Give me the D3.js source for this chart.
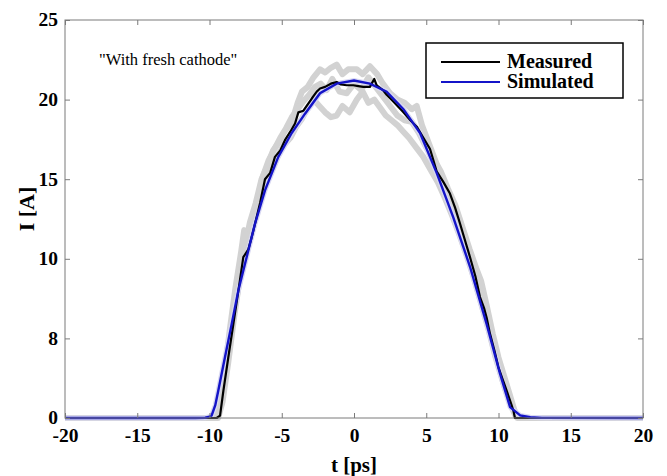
<!DOCTYPE html>
<html><head><meta charset="utf-8">
<script src="https://cdn.jsdelivr.net/npm/d3@7"></script>
<style>body{margin:0;background:#fff}svg{display:block}</style>
</head><body>
<svg id="c" width="667" height="476"></svg>
<script>
// ---- data ----
const xTicks = [-20,-15,-10,-5,0,5,10,15,20];
const xTickLabels = ["-20","-15","-10","-5","0","5","10","15","20"];
const yTicks = [0,5,10,15,20,25];
const yTickLabels = ["0","8","10","15","20","25"];
const measuredT = [-20,-10,-9.5,-9.27,-9.04,-8.7,-8.35,-8.0,-7.66,-7.31,-7.1,-6.85,-6.5,-6.16,-5.8,-5.47,-5.1,-4.78,-4.4,-4.08,-3.85,-3.5,-3.2,-2.9,-2.58,-2.35,-2.0,-1.6,-1.2,-0.9,-0.5,-0.05,0.3,0.64,1.1,1.4,1.57,2.0,2.26,2.8,3.42,3.9,4.34,4.8,5.26,5.72,6.2,6.64,7.0,7.34,7.7,8.03,8.4,8.72,9.0,9.18,9.41,9.7,9.99,10.3,10.57,10.8,11.03,11.14,11.5,20];
const measuredI = [0,0,0,0.15,1.7,3.8,5.9,8.0,10.1,10.6,11.3,12.2,13.5,15.0,15.4,16.4,16.8,17.45,18.0,18.5,19.2,19.3,19.7,20.1,20.5,20.7,20.8,21.0,21.1,20.95,20.9,20.9,20.85,20.8,20.8,21.3,20.9,20.6,20.3,19.8,19.2,18.7,18.3,17.6,16.9,15.5,14.8,14.1,13.2,12.2,11.1,10.1,8.9,7.6,6.9,6.3,5.3,4.3,3.2,2.4,1.7,1.1,0.47,0,0,0];
const simulatedT = [-20,-11,-10.3,-10.0,-9.85,-9.6,-9.39,-8.93,-8.46,-8.0,-7.43,-6.85,-6.16,-5.24,-4.31,-3.4,-2.35,-1.2,0,1.1,2.26,3.42,4.57,5.72,6.87,8.03,9.18,10.1,10.8,11.5,12.2,13,20];
const simulatedI = [0,0,0.02,0.08,0.16,0.8,1.73,3.82,5.92,8.02,10.1,12.2,14.3,16.4,17.9,19.1,20.4,21.0,21.2,21.0,20.5,19.4,17.9,15.4,12.6,9.5,5.9,2.8,0.68,0.16,0.05,0.01,0];
const shotAT = [-20,-9.6,-9.3,-9.0,-8.6,-8.2,-7.8,-7.6,-7.5,-7.2,-6.8,-6.4,-6.0,-5.6,-5.2,-4.8,-4.3,-3.9,-3.6,-3.2,-2.8,-2.35,-2.0,-1.6,-1.2,-0.8,-0.4,0.2,0.6,1.1,1.6,2.0,2.5,3.0,3.5,4.0,4.34,4.7,5.2,5.7,6.2,6.7,7.2,7.5,7.9,8.4,8.8,9.2,9.6,10.0,10.4,10.8,11.2,11.5,20];
const shotAI = [0,0,0.5,2.5,5.5,8.2,10.5,11.8,11.0,12.3,13.5,15.0,15.8,16.8,17.3,18.0,18.6,19.8,20.5,20.8,21.4,21.9,21.7,22.0,22.2,21.6,21.9,21.9,21.6,22.1,21.6,21.0,20.4,20.0,19.8,19.4,19.6,18.4,17.2,16.0,14.8,13.8,12.4,11.6,10.6,9.0,7.6,6.4,4.8,3.4,2.0,0.9,0.1,0,0];
const shotBT = [-20,-9.8,-9.5,-9.2,-8.8,-8.4,-8.0,-7.6,-7.2,-6.8,-6.4,-6.0,-5.6,-5.2,-4.8,-4.4,-4.0,-3.6,-3.2,-2.8,-2.4,-2.0,-1.6,-1.2,-0.8,-0.3,0.2,0.6,1.0,1.4,1.8,2.2,2.6,3.0,3.4,3.8,4.3,4.8,5.3,5.8,6.3,6.8,7.3,7.8,8.3,8.8,9.3,9.8,10.3,10.8,11.2,11.5,20];
const shotBI = [0,0,0.6,2.0,4.0,6.2,8.2,10.0,11.5,12.8,14.0,15.0,15.8,16.6,17.2,17.6,18.3,18.8,19.5,20.0,19.6,19.2,18.9,19.0,19.6,19.2,20.0,20.5,19.8,20.0,19.5,19.0,18.7,18.4,18.0,17.6,17.0,16.4,15.6,14.8,13.8,12.7,11.5,10.2,8.8,7.2,5.6,3.8,2.3,1.0,0.2,0,0];
const shotCT = [-20,-9.4,-9.1,-8.7,-8.3,-7.9,-7.5,-7.1,-6.7,-6.3,-5.9,-5.5,-5.1,-4.7,-4.3,-3.9,-3.5,-3.1,-2.7,-2.3,-1.9,-1.5,-1.0,-0.5,0,0.5,1.0,1.5,2.0,2.5,3.0,3.5,4.0,4.5,5.0,5.5,6.0,6.5,7.0,7.5,8.0,8.5,8.8,9.2,9.6,10.0,10.4,10.8,11.1,11.3,20];
const shotCI = [0,0,1.0,3.5,6.3,8.8,10.7,12.0,13.6,15.2,16.2,16.9,17.6,18.2,18.9,19.4,19.9,20.3,20.8,21.0,20.6,21.3,20.5,20.4,21.0,20.6,21.4,20.8,20.2,19.6,19.0,18.7,18.6,17.9,17.0,16.3,15.5,14.4,13.4,12.0,10.6,9.3,8.6,7.0,5.3,3.8,2.6,1.4,0.5,0,0];
const seriesNames = ["Measured","Simulated"];
const annotation = "\"With fresh cathode\"";

// ---- chart ----
const W = 667, H = 476;
const m = {l:65, r:24, t:20, b:58};
const svg = d3.select("#c");
const x = d3.scaleLinear().domain([-20,20]).range([m.l, W-m.r]);
const y = d3.scaleLinear().domain([0,25]).range([H-m.b, m.t]);
const font = "'Liberation Serif','Times New Roman',serif";

const line = d3.line().x(d=>x(d[0])).y(d=>y(d[1]));
const zip = (a,b)=>a.map((v,i)=>[v,b[i]]);

const g = svg.append("g");
// gray shots
[[shotAT,shotAI],[shotBT,shotBI],[shotCT,shotCI]].forEach(([t,I])=>{
  g.append("path").attr("d", line(zip(t,I))).attr("fill","none")
   .attr("stroke","#d2d2d2").attr("stroke-width",6).attr("stroke-linejoin","round");
});
// faint halo of simulated
g.append("path").attr("d", line(zip(simulatedT,simulatedI))).attr("fill","none")
 .attr("stroke","#d8d8f2").attr("stroke-width",5);
g.append("path").attr("d", line(zip(measuredT,measuredI))).attr("fill","none")
 .attr("stroke","#000").attr("stroke-width",2.2).attr("stroke-linejoin","round");
g.append("path").attr("d", line(zip(simulatedT,simulatedI))).attr("fill","none")
 .attr("stroke","#1414c8").attr("stroke-width",2.4);

// axes box
const axC = "#7a7a7a";
svg.append("rect").attr("x",m.l).attr("y",m.t).attr("width",W-m.l-m.r).attr("height",H-m.t-m.b)
  .attr("fill","none").attr("stroke",axC).attr("stroke-width",1);

const xb = svg.append("g").attr("transform",`translate(0,${H-m.b})`)
  .call(d3.axisBottom(x).tickValues(xTicks).tickSizeInner(-5).tickSizeOuter(0).tickPadding(10)
  .tickFormat((d,i)=>xTickLabels[i]));
const xt = svg.append("g").attr("transform",`translate(0,${m.t})`)
  .call(d3.axisTop(x).tickValues(xTicks).tickSizeInner(-5).tickSizeOuter(0).tickFormat(""));
const yl = svg.append("g").attr("transform",`translate(${m.l},0)`)
  .call(d3.axisLeft(y).tickValues(yTicks).tickSizeInner(-5).tickSizeOuter(0).tickPadding(7)
  .tickFormat((d,i)=>yTickLabels[i]));
const yr = svg.append("g").attr("transform",`translate(${W-m.r},0)`)
  .call(d3.axisRight(y).tickValues(yTicks).tickSizeInner(-5).tickSizeOuter(0).tickFormat(""));
[xb,xt,yl,yr].forEach(a=>{
  a.select(".domain").remove();
  a.selectAll(".tick line").attr("stroke",axC);
  a.selectAll("text").attr("font-family",font).attr("font-weight","bold").attr("font-size",19.5).attr("fill","#000");
});
yl.selectAll("text").attr("dy","0.3em");

// axis labels
svg.append("text").attr("x",x(0)).attr("y",472).attr("text-anchor","middle")
  .attr("font-family",font).attr("font-weight","bold").attr("font-size",21).text("t [ps]");
svg.append("text").attr("transform",`translate(34,${(m.t+H-m.b)/2 - 10}) rotate(-90)`)
  .attr("text-anchor","middle").attr("font-family",font).attr("font-weight","bold").attr("font-size",22).text("I [A]");

// annotation
svg.append("text").attr("x",99).attr("y",65).attr("font-family",font).attr("font-size",16.5).text(annotation);

// legend
const lg = svg.append("g");
lg.append("rect").attr("x",426).attr("y",43).attr("width",197).attr("height",55)
  .attr("fill","#fff").attr("stroke","#000").attr("stroke-width",1.5);
const lcol = ["#000","#1414c8"];
seriesNames.forEach((n,i)=>{
  const yy = 62 + i*20;
  lg.append("line").attr("x1",441).attr("x2",500).attr("y1",yy).attr("y2",yy)
    .attr("stroke",lcol[i]).attr("stroke-width",2.2);
  lg.append("text").attr("x",507).attr("y",yy+6).attr("font-family",font).attr("font-weight","bold")
    .attr("font-size",20).text(n);
});
</script>
</body></html>
